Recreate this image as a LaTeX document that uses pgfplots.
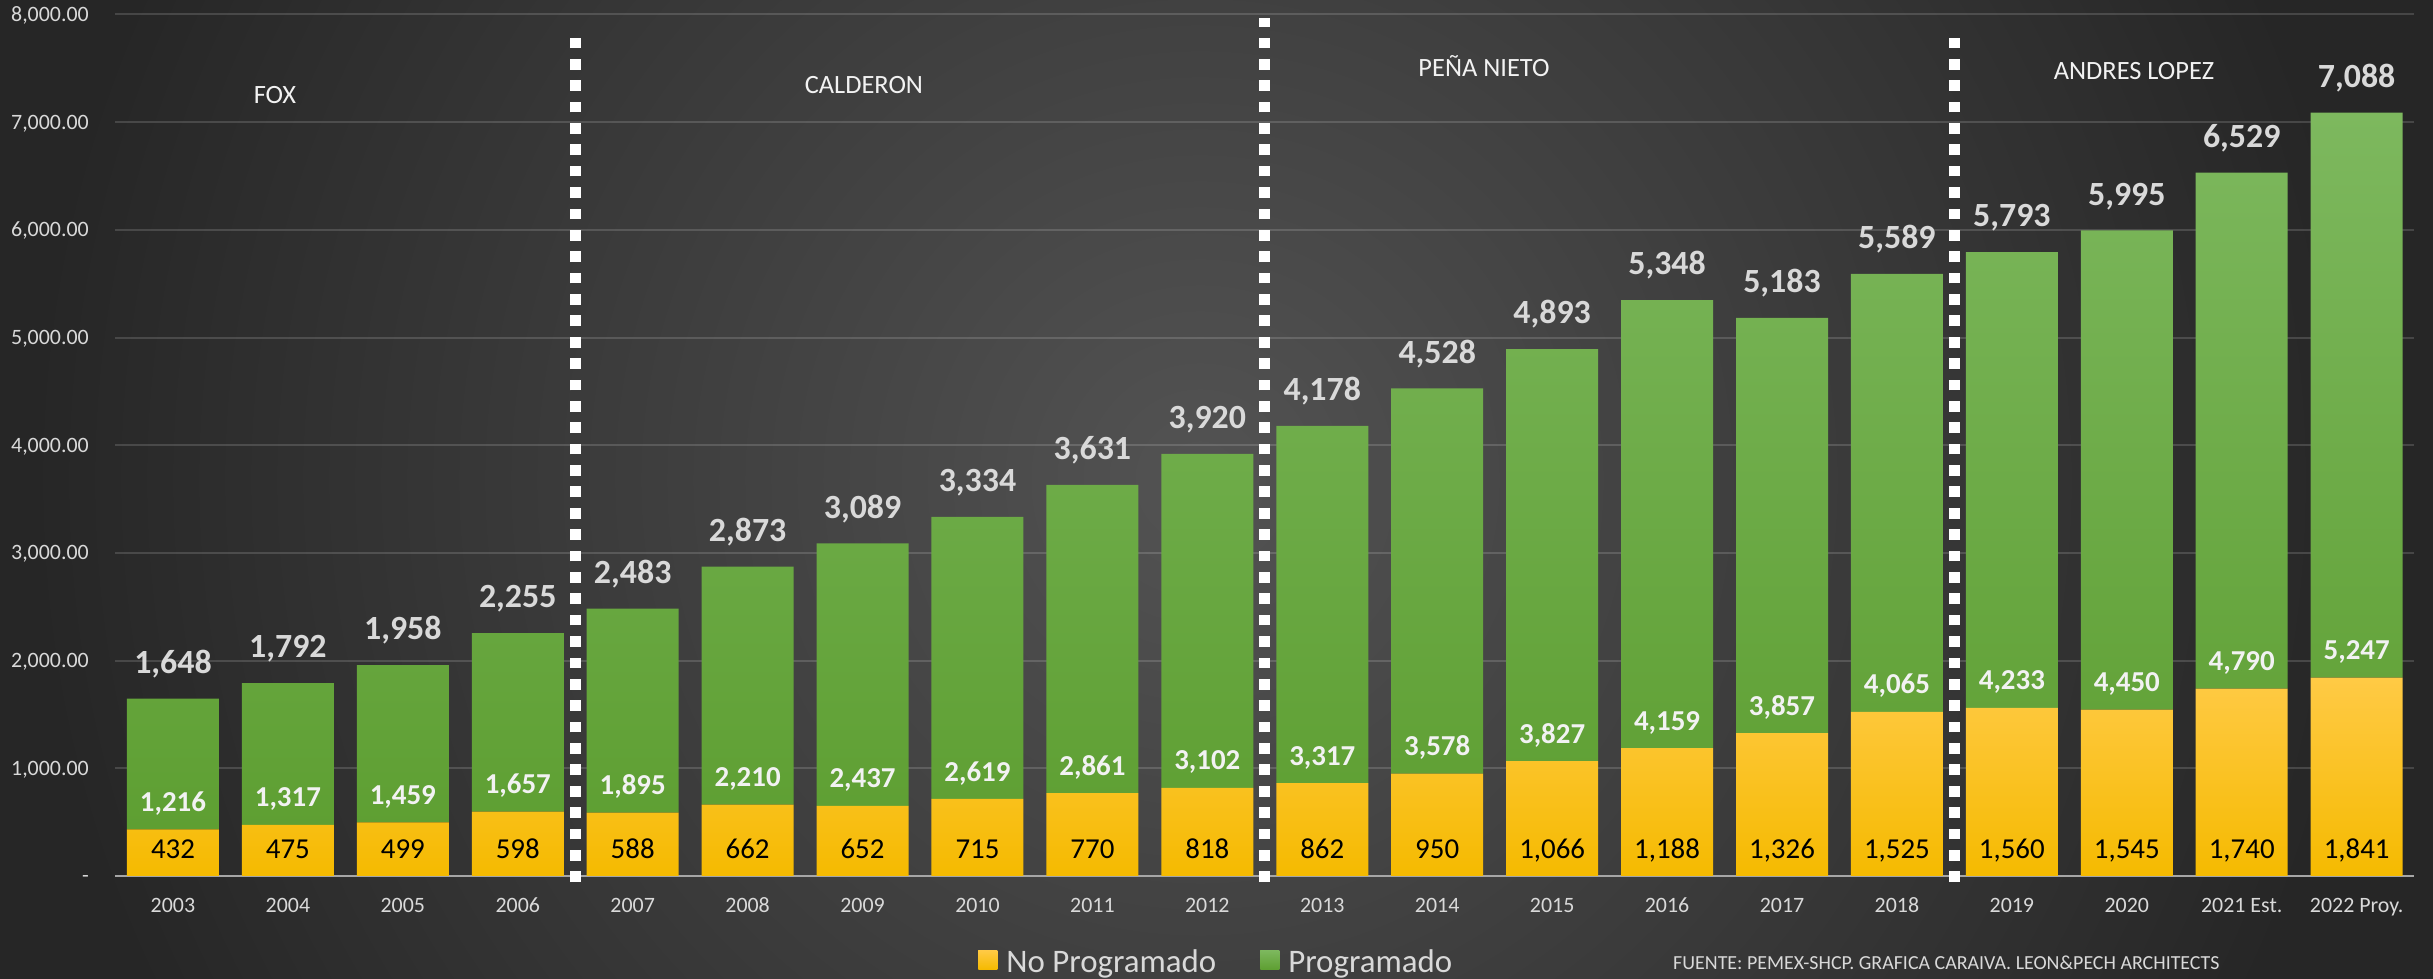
\documentclass[border=0pt]{standalone}
\usepackage{pgfplots}
\pgfplotsset{compat=1.18}
\usepackage{pgfplotstable}
\usepackage{fontspec}
\setmainfont{Carlito}

\definecolor{bgC}{HTML}{535353}
\definecolor{bgO}{HTML}{262626}
\definecolor{ytop}{HTML}{FFCA45}
\definecolor{ybot}{HTML}{F5BA00}
\definecolor{gtop}{HTML}{7DB85E}
\definecolor{gbot}{HTML}{5E9F32}
\definecolor{tickgray}{HTML}{D9D9D9}
\definecolor{axgray}{HTML}{A6A6A6}
\definecolor{legyel}{HTML}{FFC000}
\definecolor{leggrn}{HTML}{70B244}
\definecolor{perwhite}{HTML}{F2F2F2}
\definecolor{totgray}{HTML}{D9D9D9}

\tikzset{perlabel/.style={anchor=base, inner sep=0pt, font=\fontsize{26.5}{30}\selectfont, text=perwhite},
  vdash/.style={white, line width=11bp, dash pattern=on 10.7bp off 10.68bp}}

\pgfplotstableread{
x noprog prog total
0 432 1216 1648
1 475 1317 1792
2 499 1459 1958
3 598 1657 2255
4 588 1895 2483
5 662 2210 2873
6 652 2437 3089
7 715 2619 3334
8 770 2861 3631
9 818 3102 3920
10 862 3317 4178
11 950 3578 4528
12 1066 3827 4893
13 1188 4159 5348
14 1326 3857 5183
15 1525 4065 5589
16 1560 4233 5793
17 1545 4450 5995
18 1740 4790 6529
19 1841 5247 7088
}\datatable

\pgfplotsset{
  myax/.style={
    at={(115.5bp,103bp)}, anchor=south west,
    scale only axis, width=2298.6bp, height=861.6bp,
    xmin=-0.5, xmax=19.5, ymin=0, ymax=8000,
    enlargelimits=false, clip=false,
  },
  /pgf/number format/fixed,
  /pgf/number format/precision=0,
  /pgf/number format/1000 sep={,},
  /pgf/number format/assume math mode=true,
}

\begin{document}
\begin{tikzpicture}
\fill[bgO] (0bp,0bp) rectangle (2433bp,979bp);
\begin{scope}
\clip (0bp,0bp) rectangle (2433bp,979bp);
\shade[inner color=bgC, outer color=bgO] (1200bp,499bp) circle (1170bp);
\end{scope}

\begin{axis}[myax, ybar stacked, bar width=92bp,
  axis x line*=bottom, axis y line*=left,
  x axis line style={draw=axgray, line width=2.3bp},
  y axis line style={draw=none},
  major tick length=0pt,
  xtick={0,...,19},
  xticklabels={2003,2004,2005,2006,2007,2008,2009,2010,2011,2012,2013,2014,2015,2016,2017,2018,2019,2020,2021 Est.,2022 Proy.},
  ytick={0,1000,2000,3000,4000,5000,6000,7000,8000},
  yticklabels={{-\hspace{10bp}},{1,000.00},{2,000.00},{3,000.00},{4,000.00},{5,000.00},{6,000.00},{7,000.00},{8,000.00}},
  ymajorgrids, grid style={draw=white, draw opacity=0.15, line width=2bp},
  tick label style={font=\fontsize{22}{26}\selectfont, text=tickgray, inner sep=0pt},
  xticklabel style={anchor=base, yshift=-37bp},
  yticklabel style={anchor=base east, xshift=-26.5bp, yshift=-7bp},
  legend columns=2,
  legend cell align=left,
  legend style={at={(axis description cs:0.3754,-0.1138)}, anchor=south west,
    draw=none, fill=none, inner sep=0pt, outer sep=0pt,
    font=\fontsize{33}{38}\selectfont, text=tickgray,
    nodes={inner sep=0pt},
    /tikz/every odd column/.append style={column sep=9bp},
    /tikz/every even column/.append style={column sep=44bp}},
]
\addplot[draw=none, top color=ytop, bottom color=ybot,
  legend image code/.code={\fill[legyel] (0bp,-7.5bp) rectangle (19bp,11.5bp);}]
  table[x=x, y=noprog]{\datatable};
\addlegendentry{No Programado}
\addplot[draw=none, top color=gtop, bottom color=gbot,
  legend image code/.code={\fill[leggrn] (0bp,-7.5bp) rectangle (19bp,11.5bp);}]
  table[x=x, y=prog]{\datatable};
\addlegendentry{Programado}

\draw[vdash] (axis cs:3.5,-56) -- (axis cs:3.5,7839);
\draw[vdash] (axis cs:9.5,-56) -- (axis cs:9.5,7966);
\draw[vdash] (axis cs:15.5,-56) -- (axis cs:15.5,7790);

\node[perlabel] at (axis cs:0.8875,7177) {FOX};
\node[perlabel] at (axis cs:6.012,7270) {CALDERON};
\node[perlabel] at (axis cs:11.407,7419) {PEÑA NIETO};
\node[perlabel] at (axis cs:17.063,7391) {ANDRES LOPEZ};
\end{axis}

\begin{axis}[myax, hide axis]
\addplot[only marks, mark=*, mark size=0pt, mark options={draw=none, fill=none},
  nodes near coords, point meta=explicit,
  nodes near coords style={anchor=base, inner sep=0pt, font=\fontsize{29}{32}\selectfont, text=black}]
  table[x=x, y expr=164, meta=noprog]{\datatable};
\addplot[only marks, mark=*, mark size=0pt, mark options={draw=none, fill=none},
  nodes near coords, point meta=explicit,
  nodes near coords style={anchor=base, inner sep=0pt, font=\fontsize{29}{32}\selectfont\bfseries, text=perwhite}]
  table[x=x, y expr=\thisrow{noprog}+167, meta=prog]{\datatable};
\addplot[only marks, mark=*, mark size=0pt, mark options={draw=none, fill=none},
  nodes near coords, point meta=explicit,
  nodes near coords style={anchor=base, inner sep=0pt, font=\fontsize{34}{38}\selectfont\bfseries, text=totgray}]
  table[x=x, y expr=\thisrow{total}+235, meta=total]{\datatable};
\end{axis}

\node[anchor=base west, inner sep=0pt, font=\fontsize{20}{24}\selectfont, text=tickgray] at (1673bp,10bp) {FUENTE: PEMEX-SHCP. GRAFICA CARAIVA. LEON\&PECH ARCHITECTS};

\pgfresetboundingbox
\useasboundingbox (0bp,0bp) rectangle (2433bp,979bp);
\end{tikzpicture}
\end{document}
